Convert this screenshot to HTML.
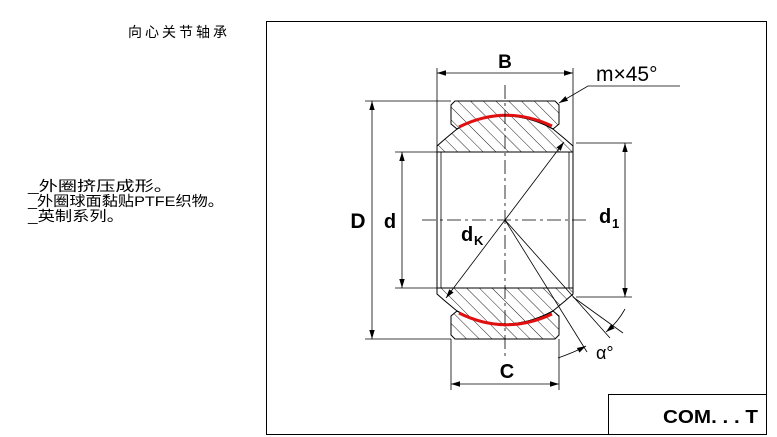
<!DOCTYPE html>
<html><head><meta charset="utf-8"><style>
body{margin:0;background:#fff;width:777px;height:437px;overflow:hidden;}
svg{display:block}
</style></head><body>
<svg width="777" height="437" viewBox="0 0 777 437" xmlns="http://www.w3.org/2000/svg">
<defs>
<pattern id="h" patternUnits="userSpaceOnUse" width="9" height="9" patternTransform="rotate(-45)">
<line x1="0" y1="0" x2="0" y2="9" stroke="#222" stroke-width="1"/>
</pattern>
<marker id="a" viewBox="0 0 10 10" refX="10" refY="5" markerWidth="9" markerHeight="9" orient="auto-start-reverse" markerUnits="userSpaceOnUse"><path d="M0,2 L10,5 L0,8 z" fill="#000"/></marker>
</defs>
<text x="128" y="37" font-family="'Liberation Sans','Noto Sans CJK SC',sans-serif" font-size="14" letter-spacing="3" fill="#000">向心关节轴承</text>
<g font-family="'Liberation Sans','Noto Sans CJK SC',sans-serif" font-size="14" fill="#000">
<text x="28" y="191" textLength="145" lengthAdjust="spacingAndGlyphs">_外圈挤压成形。</text>
<text x="28" y="206" textLength="196" lengthAdjust="spacingAndGlyphs">_外圈球面黏贴PTFE织物。</text>
<text x="28" y="221" textLength="96" lengthAdjust="spacingAndGlyphs">_英制系列。</text>
</g>
<rect x="266.5" y="21.5" width="500" height="413" fill="none" stroke="#000"/>
<path d="M608.5 434 V394.5 H766" fill="none" stroke="#000"/>
<text x="758" y="423" text-anchor="end" font-family="'Liberation Sans',sans-serif" font-weight="bold" font-size="18" fill="#000" textLength="95" lengthAdjust="spacingAndGlyphs">COM. . . T</text>

<g stroke="#000" stroke-width="1" fill="url(#h)">
<path d="M455 101 H555 L559 105 V124 L553 129 Q505 103 457 129 L451 124 V105 Z"/>
<path d="M437 152 V146 L445 139 L457 129 Q505 103 553 129 L565 139 L573 146 V152 Z"/>
<path d="M437 288 V294 L445 301 L457 311 Q505 337 553 311 L565 301 L573 294 V288 Z"/>
<path d="M455 339 H555 L559 335 V316 L553 311 Q505 337 457 311 L451 316 V335 Z"/>
</g>
<rect x="437" y="152" width="136" height="136" fill="#fff" stroke="#000"/>
<line x1="441" y1="152" x2="441" y2="288" stroke="#000" stroke-width="0.8"/>
<line x1="569" y1="152" x2="569" y2="288" stroke="#000" stroke-width="0.8"/>
<path d="M459 127 Q505 104 552 126" fill="none" stroke="#e01010" stroke-width="3"/>
<path d="M459 313 Q505 336 552 314" fill="none" stroke="#e01010" stroke-width="3"/>

<g stroke="#000" stroke-width="0.8" fill="none">
<line x1="422" y1="220" x2="590" y2="220" stroke-dasharray="14,4,3,4"/>
<line x1="505" y1="85" x2="505" y2="358" stroke-dasharray="14,4,3,4"/>
<line x1="437" y1="68" x2="437" y2="146"/>
<line x1="573" y1="68" x2="573" y2="146"/>
<line x1="437" y1="73" x2="573" y2="73" marker-start="url(#a)" marker-end="url(#a)"/>
<polyline points="680,86 588,86 559,103" marker-end="url(#a)"/>
<line x1="365" y1="101" x2="451" y2="101"/>
<line x1="365" y1="339" x2="451" y2="339"/>
<line x1="372" y1="101" x2="372" y2="339" marker-start="url(#a)" marker-end="url(#a)"/>
<line x1="395" y1="152" x2="437" y2="152"/>
<line x1="395" y1="288" x2="437" y2="288"/>
<line x1="402" y1="152" x2="402" y2="288" marker-start="url(#a)" marker-end="url(#a)"/>
<line x1="576" y1="143" x2="632" y2="143"/>
<line x1="576" y1="297" x2="632" y2="297"/>
<line x1="625" y1="143" x2="625" y2="297" marker-start="url(#a)" marker-end="url(#a)"/>
<line x1="451" y1="339" x2="451" y2="390"/>
<line x1="559" y1="339" x2="559" y2="390"/>
<line x1="451" y1="384" x2="559" y2="384" marker-start="url(#a)" marker-end="url(#a)"/>
<line x1="446" y1="298" x2="564" y2="142" marker-start="url(#a)" marker-end="url(#a)"/>
<line x1="505" y1="220" x2="587" y2="352"/>
<line x1="505" y1="220" x2="610" y2="338"/>
<line x1="573" y1="297" x2="623" y2="333"/>
<path d="M558 358 Q575 352 586 346" marker-end="url(#a)"/>
<path d="M625 309 Q618 322 606 332" marker-end="url(#a)"/>
</g>
<g font-family="'Liberation Sans',sans-serif" fill="#000">
<text x="505" y="68" text-anchor="middle" font-size="19" font-weight="bold">B</text>
<text x="596" y="81" font-size="21">m×45°</text>
<text x="358" y="228" text-anchor="middle" font-size="21" font-weight="bold">D</text>
<text x="390" y="228" text-anchor="middle" font-size="20" font-weight="bold">d</text>
<text x="599" y="223" font-size="20" font-weight="bold">d</text>
<text x="612" y="228" font-size="13" font-weight="bold">1</text>
<text x="461" y="241" font-size="20" font-weight="bold">d</text>
<text x="474" y="245" font-size="13" font-weight="bold">K</text>
<text x="507" y="378" text-anchor="middle" font-size="20" font-weight="bold">C</text>
<text x="596" y="359" font-size="18">α°</text>
</g>
</svg>
</body></html>
